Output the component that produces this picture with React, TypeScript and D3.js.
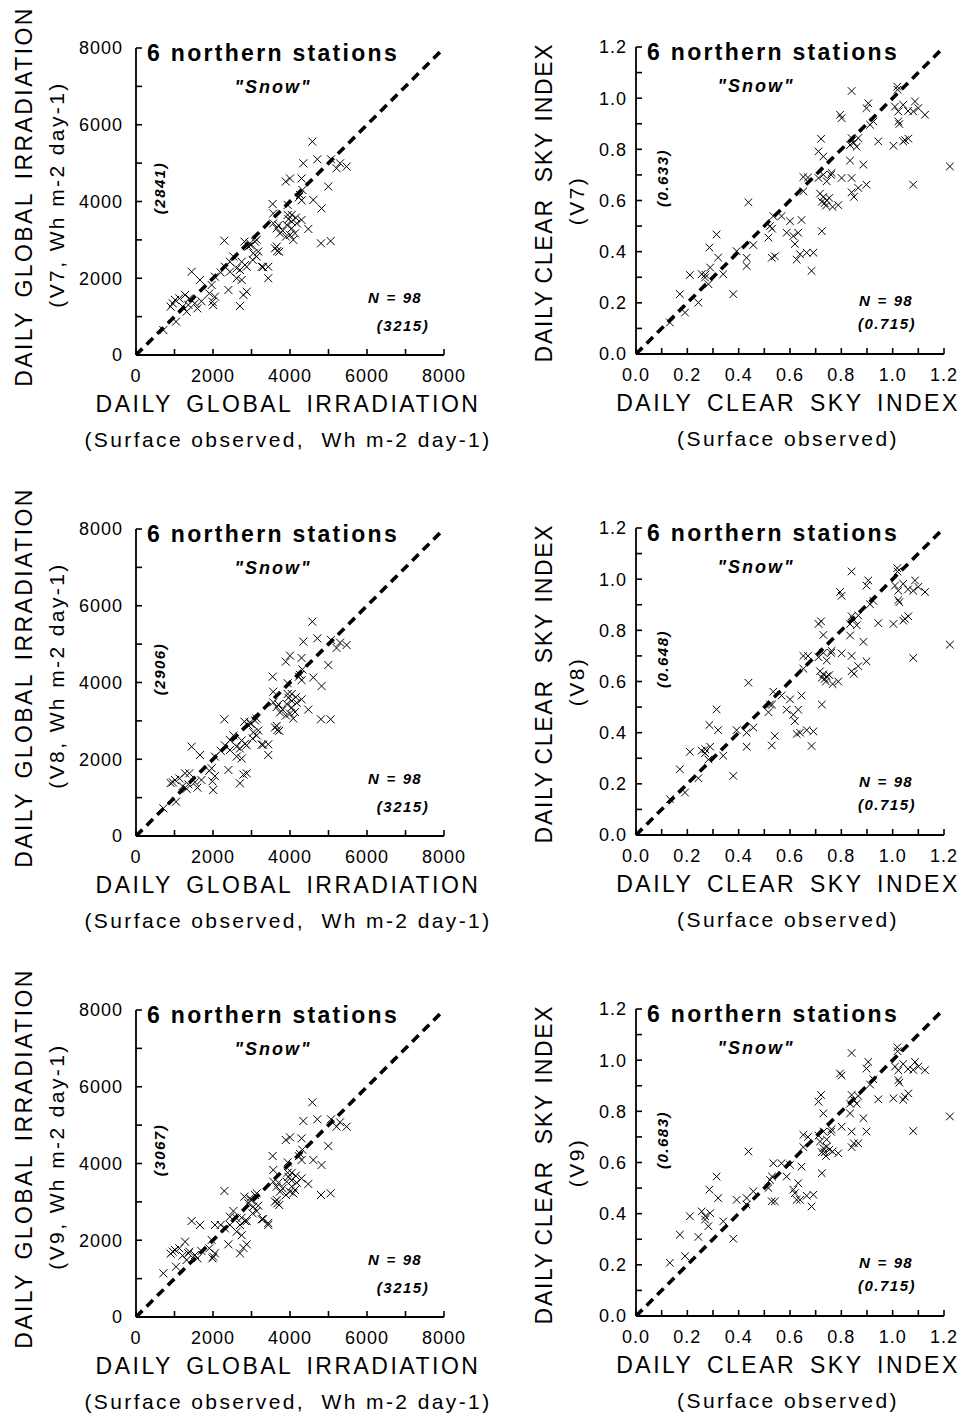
import React from 'react';
import * as d3 from 'd3';

const FONT = '"Liberation Sans", Arial, Helvetica, sans-serif';

// ---------- Irradiation panels (Wh m-2 day-1) ----------
const SURF_IRR = [
  4580, 4345, 4710, 5065, 5210, 5470, 5300, 4995, 3890, 4000,
  4300, 4320, 4260, 4230, 4300, 4605, 4820, 3550, 3565, 3940,
  4045, 4300, 4475, 3565, 3655, 3740, 3915, 4045, 4000, 4130,
  4085, 3895, 4045, 4175, 4805, 5055, 3610, 3670, 3720, 3655,
  2295, 2815, 2960, 3090, 3135, 2920, 3045, 3135, 3175, 2530,
  2440, 2310, 2615, 2745, 2830, 2700, 2440, 2615, 2745, 2875,
  3265, 3435, 3435, 1445, 1660, 2050, 1965, 2400, 2875, 2790,
  2700, 2050, 1985, 2005, 1905, 955, 1015, 1125, 1275, 1385,
  1360, 1530, 1595, 1315, 1040, 710, 900, 1210, 3940, 3700,
  3810, 3960, 2200, 3030, 1700, 2980, 4150, 3300,
];
const V7_IRR = [
  5560, 4995, 5100, 5100, 4865, 4910, 4995, 4390, 4520, 4600,
  4600, 4300, 4170, 4110, 4030, 4040, 3820, 3935, 3690, 3910,
  3650, 3520, 3285, 3430, 3300, 3170, 3390, 3300, 3130, 3170,
  3000, 3085, 3475, 3430, 2910, 2970, 2780, 2710, 2690, 2825,
  2980, 2955, 2910, 2955, 3000, 2825, 2650, 2565, 2695, 2565,
  2430, 2300, 2260, 2430, 2345, 2215, 2170, 2000, 1955, 2300,
  2300, 2300, 2000, 2170, 1955, 2040, 1825, 1695, 1650, 1565,
  1275, 1520, 1390, 1300, 1605, 1345, 1435, 1475, 1565, 1475,
  1305, 1345, 1215, 1130, 870, 650, 1260, 1260, 3650, 3380,
  3240, 3540, 2150, 2480, 1400, 2860, 3580, 2290,
];
const V8_IRR = [
  5585, 5064, 5150, 5110, 4900, 4977, 5040, 4456, 4543, 4699,
  4640, 4340, 4200, 4150, 4060, 4130, 3908, 4152, 3760, 3980,
  3700, 3560, 3295, 3480, 3360, 3220, 3440, 3350, 3190, 3230,
  3060, 3140, 3520, 3470, 3041, 3041, 2830, 2760, 2740, 2870,
  3040, 2979, 2960, 3010, 3060, 2880, 2700, 2620, 2750, 2620,
  2500, 2360, 2330, 2490, 2400, 2280, 2240, 2070, 2020, 2360,
  2380, 2390, 2111, 2328, 2111, 2068, 1764, 1720, 1633, 1600,
  1373, 1560, 1425, 1199, 1700, 1400, 1459, 1500, 1633, 1633,
  1346, 1400, 1260, 1230, 894, 721, 1380, 1300, 3700, 3430,
  3290, 3600, 2220, 2540, 1460, 2920, 3620, 2380,
];
const V9_IRR = [
  5595, 5108, 5152, 5152, 4960, 4960, 5073, 4456, 4613, 4682,
  4656, 4360, 4250, 4190, 4091, 4091, 3961, 4195, 3831, 4030,
  3757, 3613, 3466, 3527, 3397, 3267, 3527, 3397, 3267, 3310,
  3223, 3180, 3560, 3500, 3179, 3223, 3005, 2962, 2918, 3050,
  3284, 3136, 3093, 3179, 3223, 2962, 2875, 2762, 2900, 2762,
  2614, 2310, 2571, 2588, 2502, 2397, 2400, 2224, 2130, 2500,
  2545, 2450, 2397, 2502, 2397, 2397, 2007, 1894, 1894, 1800,
  1659, 1659, 1529, 1572, 1790, 1703, 1746, 1790, 1963, 1703,
  1660, 1616, 1529, 1485, 1311, 1138, 1650, 1600, 3760, 3500,
  3350, 3650, 2400, 2700, 1720, 3050, 3680, 2550,
];

// ---------- Clear sky index panels ----------
const SURF_CSI = [
  0.840, 1.018, 1.019, 0.905, 0.898, 0.795, 0.801, 1.009, 1.022, 1.041,
  1.087, 1.100, 1.080, 1.126, 1.022, 1.026, 0.925, 0.912, 0.721, 0.711,
  0.730, 0.840, 0.849, 0.866, 0.834, 0.944, 1.003, 1.048, 1.061, 1.041,
  0.834, 0.886, 1.080, 0.652, 0.730, 0.762, 0.743, 0.711, 0.801, 0.840,
  0.898, 0.866, 0.840, 0.849, 0.652, 0.717, 0.730, 0.724, 0.743, 0.766,
  0.788, 0.438, 0.535, 0.567, 0.522, 0.516, 0.600, 0.645, 0.587, 0.613,
  0.632, 0.619, 0.639, 0.665, 0.691, 0.684, 0.626, 0.724, 0.541, 0.529,
  0.457, 0.431, 0.431, 0.392, 0.314, 0.286, 0.320, 0.289, 0.340, 0.256,
  0.269, 0.210, 0.282, 0.379, 0.243, 0.171, 0.191, 0.132, 1.223, 0.735,
  0.753, 0.270, 0.530, 0.760, 0.860, 1.060, 0.670, 0.740,
];
const V7_CSI = [
  1.028, 1.045, 1.033, 0.980, 0.961, 0.935, 0.922, 0.967, 0.948, 0.974,
  0.987, 0.961, 0.948, 0.935, 0.909, 0.899, 0.909, 0.896, 0.841, 0.792,
  0.772, 0.844, 0.826, 0.844, 0.817, 0.831, 0.814, 0.836, 0.842, 0.831,
  0.756, 0.740, 0.662, 0.692, 0.701, 0.708, 0.675, 0.688, 0.688, 0.688,
  0.662, 0.649, 0.632, 0.614, 0.636, 0.627, 0.614, 0.595, 0.601, 0.575,
  0.582, 0.593, 0.539, 0.539, 0.500, 0.455, 0.519, 0.524, 0.474, 0.461,
  0.474, 0.430, 0.390, 0.396, 0.396, 0.325, 0.369, 0.480, 0.382, 0.376,
  0.426, 0.376, 0.344, 0.402, 0.467, 0.416, 0.377, 0.338, 0.312, 0.312,
  0.299, 0.309, 0.273, 0.234, 0.201, 0.234, 0.162, 0.123, 0.733, 0.590,
  0.610, 0.310, 0.490, 0.700, 0.810, 0.950, 0.690, 0.580,
];
const V8_CSI = [
  1.030, 1.043, 1.030, 0.995, 0.975, 0.950, 0.935, 0.975, 0.955, 0.982,
  0.995, 0.970, 0.955, 0.950, 0.918, 0.910, 0.915, 0.902, 0.835, 0.825,
  0.782, 0.855, 0.840, 0.858, 0.825, 0.828, 0.825, 0.845, 0.855, 0.838,
  0.780, 0.755, 0.692, 0.700, 0.712, 0.720, 0.682, 0.695, 0.710, 0.700,
  0.679, 0.660, 0.640, 0.630, 0.650, 0.640, 0.628, 0.615, 0.620, 0.590,
  0.600, 0.595, 0.560, 0.545, 0.510, 0.480, 0.530, 0.545, 0.490, 0.470,
  0.490, 0.445, 0.400, 0.410, 0.405, 0.348, 0.395, 0.510, 0.387, 0.350,
  0.420, 0.400, 0.345, 0.410, 0.491, 0.430, 0.410, 0.345, 0.310, 0.330,
  0.320, 0.325, 0.295, 0.231, 0.222, 0.257, 0.166, 0.140, 0.744, 0.610,
  0.625, 0.335, 0.510, 0.712, 0.820, 0.960, 0.700, 0.600,
];
const V9_CSI = [
  1.028, 1.050, 1.035, 0.993, 0.967, 0.948, 0.940, 0.975, 0.960, 0.985,
  0.993, 0.975, 0.962, 0.961, 0.922, 0.912, 0.925, 0.905, 0.864, 0.838,
  0.792, 0.864, 0.845, 0.860, 0.830, 0.847, 0.851, 0.857, 0.870, 0.845,
  0.792, 0.773, 0.723, 0.708, 0.721, 0.730, 0.690, 0.705, 0.740, 0.721,
  0.721, 0.675, 0.660, 0.675, 0.660, 0.682, 0.656, 0.640, 0.662, 0.643,
  0.636, 0.643, 0.597, 0.597, 0.532, 0.500, 0.591, 0.584, 0.545, 0.494,
  0.519, 0.480, 0.454, 0.470, 0.474, 0.428, 0.454, 0.558, 0.448, 0.448,
  0.487, 0.435, 0.461, 0.454, 0.545, 0.494, 0.461, 0.402, 0.370, 0.409,
  0.377, 0.390, 0.351, 0.302, 0.309, 0.318, 0.234, 0.208, 0.780, 0.640,
  0.650, 0.390, 0.545, 0.720, 0.830, 0.965, 0.700, 0.625,
];

const IRR_TICKS = [0, 1000, 2000, 3000, 4000, 5000, 6000, 7000, 8000];
const IRR_LABELS = [0, 2000, 4000, 6000, 8000];
const CSI_TICKS = [0, 0.1, 0.2, 0.3, 0.4, 0.5, 0.6, 0.7, 0.8, 0.9, 1.0, 1.1, 1.2];
const CSI_LABELS = [0, 0.2, 0.4, 0.6, 0.8, 1.0, 1.2];

const ROW_VERSIONS = ['V7', 'V8', 'V9'];
const IRR_SAT_MEANS = ['(2841)', '(2906)', '(3067)'];
const CSI_SAT_MEANS = ['(0.633)', '(0.648)', '(0.683)'];
const IRR_SURF_MEAN = '(3215)';
const CSI_SURF_MEAN = '(0.715)';
const N_LABEL = 'N = 98';
const STATION_TITLE = '6 northern stations';
const SNOW_LABEL = '"Snow"';

const ROW_TOPS = [48, 529, 1010];
const PLOT_H = 307;

type PanelProps = {
  top: number;
  x0: number;
  x1: number;
  max: number;
  ticks: number[];
  labels: number[];
  fmt: (v: number) => string;
  xs: number[];
  ys: number[];
  yTitle1: React.ReactNode;
  yTitle1Ls: number;
  yTitle2: string;
  yTitleX1: number;
  yTitleX2: number;
  yOff1: number;
  yOff2: number;
  xTitle1: string;
  xTitle2: string;
  xTitleCx: number;
  satMean: string;
  surfMean: string;
  labelGap: number;
  meanDx: number;
  meanDy: number;
  nCx: number;
  nDy: number;
  mCx: number;
  mDy: number;
  snowCx: number;
  crossR: number;
};

function Panel(p: PanelProps) {
  const axisY = p.top + PLOT_H;
  const x = d3.scaleLinear().domain([0, p.max]).range([p.x0, p.x1]);
  const y = d3.scaleLinear().domain([0, p.max]).range([axisY, p.top]);
  const diag = d3.line<number>().x((d) => x(d)).y((d) => y(d))([0, p.max]) || '';
  const tickLen = 6;
  const midY = (axisY + p.top) / 2;
  const r = p.crossR;
  return (
    <g>
      {/* 1:1 line */}
      <path d={diag} stroke="#000" strokeWidth={3.6} strokeDasharray="9,6" fill="none" />
      {/* axes */}
      <line x1={x(0)} x2={x(0)} y1={y(0)} y2={y(p.max)} stroke="#000" strokeWidth={1.8} />
      <line x1={x(0)} x2={x(p.max)} y1={y(0)} y2={y(0)} stroke="#000" strokeWidth={1.8} />
      {p.ticks.map((t, i) => (
        <g key={'t' + i}>
          <line x1={x(t)} x2={x(t)} y1={axisY} y2={axisY - tickLen} stroke="#000" strokeWidth={1.6} />
          <line x1={p.x0} x2={p.x0 + tickLen} y1={y(t)} y2={y(t)} stroke="#000" strokeWidth={1.6} />
        </g>
      ))}
      {p.labels.map((t, i) => (
        <g key={'l' + i} fontFamily={FONT} fontSize={18} letterSpacing={1} fill="#000">
          <text x={x(t)} y={axisY + 27} textAnchor="middle">{p.fmt(t)}</text>
          <text x={p.x0 - p.labelGap} y={y(t)} dy="0.36em" textAnchor="end">{p.fmt(t)}</text>
        </g>
      ))}
      {/* points */}
      {p.xs.map((v, i) => {
        const cx = x(v);
        const cy = y(p.ys[i]);
        return (
          <path
            key={'p' + i}
            d={`M${cx - r},${cy - r}L${cx + r},${cy + r}M${cx - r},${cy + r}L${cx + r},${cy - r}`}
            stroke="#000"
            strokeWidth={1}
            fill="none"
          />
        );
      })}
      {/* in-plot texts */}
      <text x={p.x0 + 11} y={p.top + 13} fontFamily={FONT} fontSize={23} fontWeight="bold" letterSpacing={2.3}>
        {STATION_TITLE}
      </text>
      <text x={p.snowCx} y={p.top + 45} textAnchor="middle" fontFamily={FONT} fontSize={18} fontWeight="bold" fontStyle="italic" letterSpacing={2}>
        {SNOW_LABEL}
      </text>
      <text
        transform={`translate(${p.x0 + p.meanDx},${p.top + p.meanDy}) rotate(-90)`}
        textAnchor="middle"
        dy="0.35em"
        fontFamily={FONT}
        fontSize={15}
        fontWeight="bold"
        fontStyle="italic"
        letterSpacing={1.5}
      >
        {p.satMean}
      </text>
      <text x={p.nCx} y={axisY - p.nDy} textAnchor="middle" fontFamily={FONT} fontSize={15} fontWeight="bold" fontStyle="italic" letterSpacing={1.2} wordSpacing={1}>
        {N_LABEL}
      </text>
      <text x={p.mCx} y={axisY - p.mDy} textAnchor="middle" fontFamily={FONT} fontSize={15} fontWeight="bold" fontStyle="italic" letterSpacing={1.5}>
        {p.surfMean}
      </text>
      {/* axis titles */}
      <text
        transform={`translate(${p.yTitleX1},${midY + p.yOff1}) rotate(-90)`}
        textAnchor="middle"
        fontFamily={FONT}
        fontSize={23}
        letterSpacing={p.yTitle1Ls}
        wordSpacing={4}
      >
        {p.yTitle1}
      </text>
      <text
        transform={`translate(${p.yTitleX2},${midY + p.yOff2}) rotate(-90)`}
        textAnchor="middle"
        fontFamily={FONT}
        fontSize={21}
        letterSpacing={2.4}
      >
        {p.yTitle2}
      </text>
      <text x={p.xTitleCx} y={axisY + 57} textAnchor="middle" fontFamily={FONT} fontSize={23} letterSpacing={2.5} wordSpacing={5}>
        {p.xTitle1}
      </text>
      <text
        x={p.xTitleCx}
        y={axisY + 92}
        textAnchor="middle"
        fontFamily={FONT}
        fontSize={21}
        letterSpacing={2.4}
        style={{ whiteSpace: 'pre' }}
      >
        {p.xTitle2}
      </text>
    </g>
  );
}

const IRR_Y = [V7_IRR, V8_IRR, V9_IRR];
const CSI_Y = [V7_CSI, V8_CSI, V9_CSI];

const CSI_Y_TITLE = (
  <>
    <tspan>DAILY</tspan>
    <tspan dx={-6}> CLEAR</tspan>
    <tspan dx={4}> SKY</tspan>
    <tspan dx={-2}> INDEX</tspan>
  </>
);

export default function App() {
  return (
    <svg
      width={962}
      height={1414}
      viewBox="0 0 962 1414"
      style={{ position: 'absolute', left: 0, top: 0, background: '#fff' }}
    >
      <rect x={0} y={0} width={962} height={1414} fill="#fff" />
      {ROW_TOPS.map((top, r) => (
        <g key={r}>
          <Panel
            top={top}
            x0={136}
            x1={444}
            max={8000}
            ticks={IRR_TICKS}
            labels={IRR_LABELS}
            fmt={(v) => String(v)}
            xs={SURF_IRR}
            ys={IRR_Y[r]}
            yTitle1="DAILY GLOBAL IRRADIATION"
            yTitle1Ls={2.4}
            yTitle2={`(${ROW_VERSIONS[r]}, Wh m-2 day-1)`}
            yTitleX1={32}
            yTitleX2={64}
            yOff1={-5}
            yOff2={-7}
            xTitle1="DAILY GLOBAL IRRADIATION"
            xTitle2="(Surface observed,  Wh m-2 day-1)"
            xTitleCx={288}
            satMean={IRR_SAT_MEANS[r]}
            surfMean={IRR_SURF_MEAN}
            labelGap={13}
            meanDx={24}
            meanDy={140}
            nCx={395}
            nDy={52}
            mCx={403}
            mDy={24}
            snowCx={273}
            crossR={4}
          />
          <Panel
            top={top - 1}
            x0={636}
            x1={944}
            max={1.2}
            ticks={CSI_TICKS}
            labels={CSI_LABELS}
            fmt={(v) => d3.format('.1f')(v)}
            xs={SURF_CSI}
            ys={CSI_Y[r]}
            yTitle1={CSI_Y_TITLE}
            yTitle1Ls={1.7}
            yTitle2={`(${ROW_VERSIONS[r]})`}
            yTitleX1={552}
            yTitleX2={584}
            yOff1={2}
            yOff2={0}
            xTitle1="DAILY CLEAR SKY INDEX"
            xTitle2="(Surface observed)"
            xTitleCx={788}
            satMean={CSI_SAT_MEANS[r]}
            surfMean={CSI_SURF_MEAN}
            labelGap={9}
            meanDx={27}
            meanDy={131}
            nCx={886}
            nDy={48}
            mCx={887}
            mDy={25}
            snowCx={756}
            crossR={3.8}
          />
        </g>
      ))}
    </svg>
  );
}
